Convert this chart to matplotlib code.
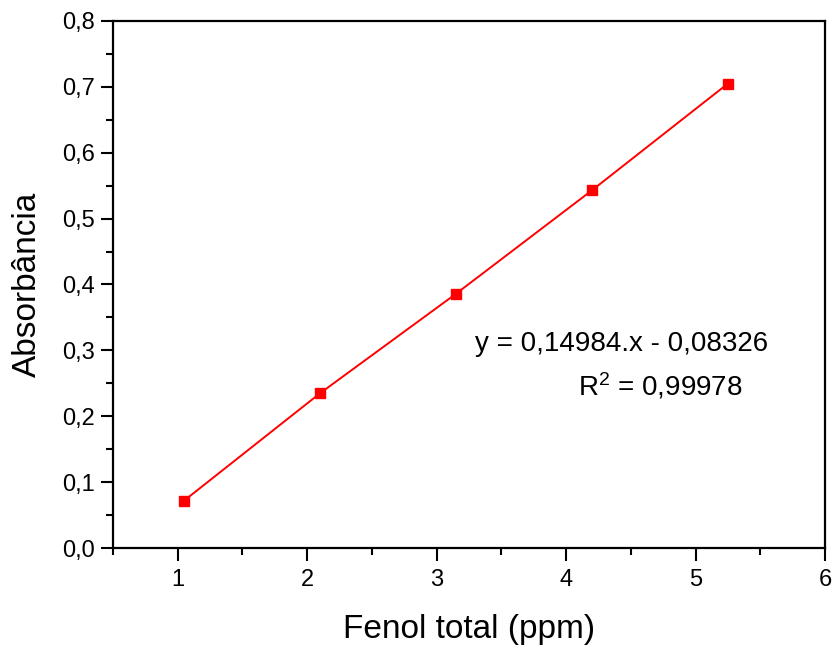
import matplotlib
matplotlib.use("Agg")
import matplotlib.pyplot as plt
from matplotlib.ticker import MultipleLocator, FuncFormatter

plt.rcParams['font.family'] = ['Liberation Sans', 'DejaVu Sans']
plt.rcParams['mathtext.fontset'] = 'custom'
plt.rcParams['mathtext.rm'] = 'Liberation Sans'
plt.rcParams['mathtext.it'] = 'Liberation Sans'
plt.rcParams['mathtext.bf'] = 'Liberation Sans'

# Calibration data: total phenol concentration vs absorbance
fenol_ppm = [1.05, 2.10, 3.15, 4.20, 5.25]
absorbancia = [0.072, 0.235, 0.386, 0.543, 0.705]

equation_text = "y = 0,14984.x - 0,08326"
r2_text = r"R$^{\mathregular{2}}$ = 0,99978"

fig = plt.figure(figsize=(8.34, 6.46), dpi=100)
ax = fig.add_axes([0.1355, 0.1517, 0.8537, 0.8158])

ax.plot(fenol_ppm, absorbancia, color='#ff0000', lw=1.4,
        marker='s', markersize=7, markerfacecolor='#ff0000',
        markeredgecolor='#ff0000')

ax.set_xlim(0.5, 6)
ax.set_ylim(0, 0.8)
ax.xaxis.set_major_locator(MultipleLocator(1))
ax.xaxis.set_minor_locator(MultipleLocator(0.5))
ax.yaxis.set_major_locator(MultipleLocator(0.1))
ax.yaxis.set_minor_locator(MultipleLocator(0.05))
ax.xaxis.set_major_formatter(FuncFormatter(lambda v, p: f"{v:.0f}"))
ax.yaxis.set_major_formatter(FuncFormatter(lambda v, p: f"{v:.1f}".replace('.', ',')))

for s in ax.spines.values():
    s.set_linewidth(1.6)

ax.tick_params(axis='both', which='major', direction='out', length=9,
               width=1.5, labelsize=17, pad=4)
ax.tick_params(axis='x', which='major', pad=6)
ax.tick_params(axis='both', which='minor', direction='out', length=5,
               width=1.5)

ax.set_xlabel("Fenol total (ppm)", fontsize=24, labelpad=17)
ax.set_ylabel("Absorbância", fontsize=24, labelpad=14)

ax.text(3.3, 0.309, equation_text, fontsize=20, ha='left', va='center')
ax.text(4.09, 0.246, r2_text, fontsize=20, ha='left', va='center')

fig.savefig("out.png", dpi=100)
